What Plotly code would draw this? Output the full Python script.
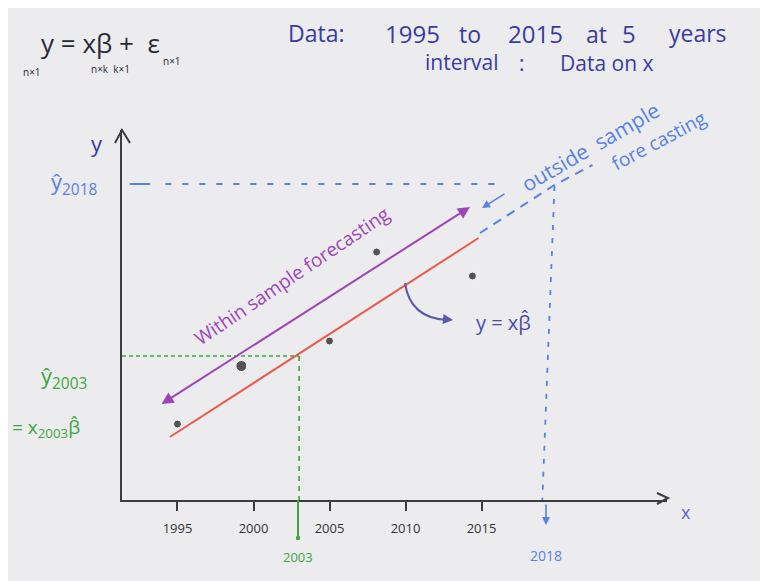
import plotly.graph_objects as go

# ---------------- data ----------------
tick_years = [1995, 2000, 2005, 2010, 2015]
tick_labels = ["1995", "2000", "2005", "2010", "2015"]

obs_years = [1995.0, 1999.2, 2005.0, 2008.1, 2014.4]
obs_values = [7.6, 13.4, 15.9, 24.8, 22.4]

fit_years = [1994.5, 2014.8]
fit_values = [6.3, 26.2]

outside_years = [2014.9, 2019.8, 2022.3]
outside_values = [26.7, 31.5, 33.5]

within_arrow_years = [1993.85, 2014.24]
within_arrow_values = [9.5, 29.3]

yhat2003_year = 2003
yhat2003_value = 14.4
yhat2018_value = 31.6
yhat2018_drawn_years = [2019.8, 2019.0]

X_MIN, X_MAX = 1991.35, 2027.2
Y_MIN, Y_MAX = 0, 37

# ---------------- layout helpers ----------------
# the page body adds an 8px offset; figure sized to fill the rest of the window
OFF = 8
W, H = 768 - OFF, 581 - OFF
PLOT_L, PLOT_R, PLOT_T, PLOT_B = 122, 667, 130, 500   # screen pixels of the plot area
L, R, T, B = PLOT_L - OFF, W - (PLOT_R - OFF), PLOT_T - OFF, H - (PLOT_B - OFF)
PW, PH = PLOT_R - PLOT_L, PLOT_B - PLOT_T


def P(px, py):
    """screen pixel -> paper coordinates"""
    return (px - PLOT_L) / PW, (PLOT_B - py) / PH


BG = "#ececee"
AX = "#3c3c3c"
RED = "#ea5a4c"
BLUE = "#5682e3"
GREEN = "#3ea53e"
PURPLE = "#9d45b8"
NAVY = "#3b3b9e"
FONT = "Open Sans"

fig = go.Figure()

fig.add_trace(go.Scatter(x=fit_years, y=fit_values, mode="lines",
                         line=dict(color=RED, width=2), hoverinfo="skip"))
fig.add_trace(go.Scatter(x=outside_years, y=outside_values, mode="lines",
                         line=dict(color=BLUE, width=2, dash="9px,7px"), hoverinfo="skip"))
fig.add_trace(go.Scatter(x=[X_MIN, yhat2003_year], y=[yhat2003_value, yhat2003_value], mode="lines",
                         line=dict(color=GREEN, width=1.6, dash="4px,3px"), hoverinfo="skip"))
fig.add_trace(go.Scatter(x=[yhat2003_year, yhat2003_year], y=[yhat2003_value, Y_MIN], mode="lines",
                         line=dict(color=GREEN, width=1.6, dash="5px,5px"), hoverinfo="skip"))
fig.add_trace(go.Scatter(x=[X_MIN + 0.5, 1993.2], y=[yhat2018_value, yhat2018_value], mode="lines",
                         line=dict(color=BLUE, width=2), hoverinfo="skip"))
fig.add_trace(go.Scatter(x=[1994.2, 2016.5], y=[yhat2018_value, yhat2018_value], mode="lines",
                         line=dict(color=BLUE, width=1.8, dash="6px,11px"), hoverinfo="skip"))
fig.add_trace(go.Scatter(x=yhat2018_drawn_years, y=[yhat2018_value - 0.2, Y_MIN], mode="lines",
                         line=dict(color=BLUE, width=1.8, dash="5px,8px"), hoverinfo="skip"))
fig.add_trace(go.Scatter(x=obs_years, y=obs_values, mode="markers",
                         marker=dict(color="#111111", size=[8, 11, 8, 8, 8]), hoverinfo="skip"))

annotations = []


def text(px, py, s, color, size, angle=0, xanchor="center"):
    x, y = P(px, py)
    annotations.append(dict(x=x, y=y, xref="paper", yref="paper", text=s, showarrow=False,
                            textangle=angle, xanchor=xanchor, yanchor="middle",
                            font=dict(family=FONT, size=size, color=color)))


def arrow(px, py, dx, dy, color, width=1.8):
    x, y = P(px, py)
    annotations.append(dict(x=x, y=y, xref="paper", yref="paper", ax=dx, ay=dy, text="",
                            showarrow=True, arrowhead=2, arrowwidth=width, arrowcolor=color))


# purple double arrow (within sample)
annotations.append(dict(x=within_arrow_years[1], y=within_arrow_values[1], xref="x", yref="y",
                        ax=within_arrow_years[0], ay=within_arrow_values[0], axref="x", ayref="y",
                        showarrow=True, arrowside="end+start", arrowhead=2, arrowsize=1.2,
                        arrowwidth=2, arrowcolor=PURPLE, text=""))

text(292, 276, "Within sample forecasting", PURPLE, 19, -34)
text(590, 147, "outside  sample", BLUE, 21, -30)
text(658, 141, "fore casting", BLUE, 19, -28)
arrow(482, 208, 24, -15, BLUE, 1.6)

text(503, 322, "y = xβ\u0302", "#4b4ba6", 20)
arrow(453, 320, -10, -1, "#5a5aaa", 2)

# header equation
text(100, 43, "y = xβ +  ε", "#2a2a35", 26)
text(32, 72, "n×1", "#2a2a35", 10)
text(110, 69, "n×k  k×1", "#2a2a35", 10)
text(172, 61, "n×1", "#2a2a35", 10)

# header note, word by word as spaced in the sketch
for cx, cy, w, sz in [(316, 33, "Data:", 23), (412, 33, "1995", 24), (470, 34, "to", 23),
                      (535, 33, "2015", 24), (596, 34, "at", 23), (629, 33, "5", 24),
                      (698, 33, "years", 23), (462, 62, "interval", 21), (522, 63, ":", 21),
                      (606, 63, "Data on x", 21)]:
    text(cx, cy, w, NAVY, sz)

# axis labels
text(97, 143, "y", NAVY, 22)
text(686, 512, "x", "#6565c5", 18)

# left side labels
text(74, 183, "y\u0302<sub>2018</sub>", BLUE, 22)
text(64, 377, "y\u0302<sub>2003</sub>", GREEN, 22)
text(10, 428, "= x<sub>2003</sub>β\u0302", GREEN, 19, xanchor="left")

# special x labels
text(298, 557, "2003", GREEN, 13)
text(546, 555, "2018", BLUE, 14)
arrow(546, 525, 0, -22, BLUE, 1.6)

shapes = []


def path(points):
    pts = [P(*p) for p in points]
    return "M " + " L ".join(f"{a},{b}" for a, b in pts)


shapes.append(dict(type="path", xref="paper", yref="paper", path=path([(115, 143), (122, 130), (130, 143)]),
                   line=dict(color=AX, width=2)))
shapes.append(dict(type="path", xref="paper", yref="paper", path=path([(657, 493), (668, 498), (657, 504)]),
                   line=dict(color=AX, width=2)))
shapes.append(dict(type="path", xref="paper", yref="paper", path=path([(298, 500), (298, 537)]),
                   line=dict(color=GREEN, width=2)))
gx, gy = P(298, 538)
shapes.append(dict(type="circle", xref="paper", yref="paper", x0=gx - 0.004, x1=gx + 0.004,
                   y0=gy - 0.006, y1=gy + 0.006, fillcolor=GREEN, line=dict(width=0)))
a, b = P(405, 283)
c, d = P(410, 318)
e, f = P(447, 320)
shapes.append(dict(type="path", xref="paper", yref="paper", path=f"M {a},{b} Q {c},{d} {e},{f}",
                   line=dict(color="#5a5aaa", width=2)))

fig.update_layout(
    width=W, height=H,
    margin=dict(l=L, r=R, t=T, b=B, pad=0),
    paper_bgcolor=BG, plot_bgcolor=BG,
    showlegend=False,
    annotations=annotations, shapes=shapes,
    xaxis=dict(range=[X_MIN, X_MAX], showgrid=False, zeroline=False, showline=True,
               linecolor=AX, linewidth=2, tickvals=tick_years, ticktext=tick_labels,
               ticks="outside", ticklen=9, tickwidth=2, tickcolor=AX, ticklabelstandoff=6,
               tickfont=dict(family=FONT, size=13, color="#333333")),
    yaxis=dict(range=[Y_MIN, Y_MAX], showgrid=False, zeroline=False, showline=True,
               linecolor=AX, linewidth=2, showticklabels=False, ticks=""),
)

fig.write_html("out.html")
